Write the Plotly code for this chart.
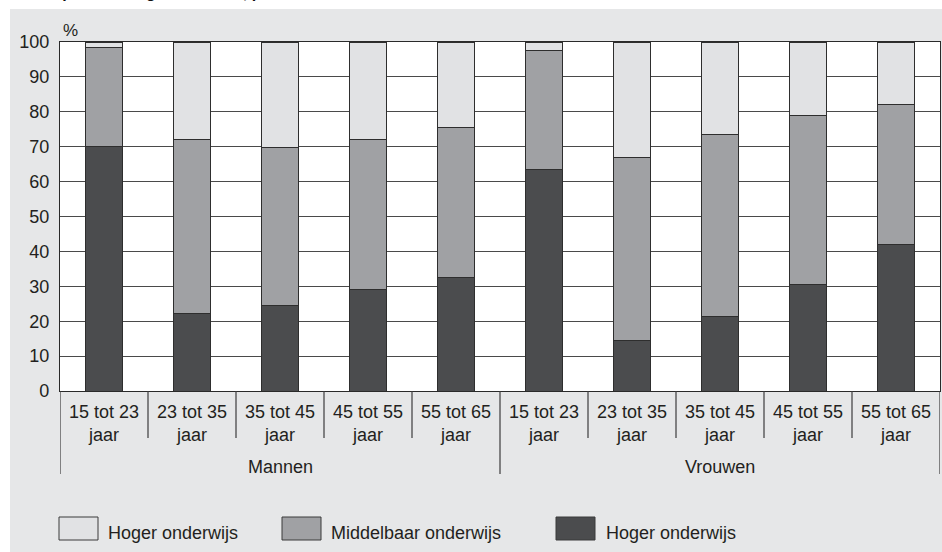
import plotly.graph_objects as go

# ---- data -------------------------------------------------------------
groups = ["Mannen", "Vrouwen"]
age_labels = ["15 tot 23 jaar", "23 tot 35 jaar", "35 tot 45 jaar",
              "45 tot 55 jaar", "55 tot 65 jaar"]
categories = [(g, a) for g in groups for a in age_labels]

lager = [70.0, 22.2, 24.4, 29.2, 32.6, 63.5, 14.4, 21.4, 30.5, 42.1]        # dark
middelbaar = [28.3, 50.0, 45.4, 43.0, 43.0, 34.0, 52.5, 52.1, 48.3, 40.1]   # mid grey
hoger = [1.7, 27.8, 30.2, 27.8, 24.4, 2.5, 33.1, 26.5, 21.2, 17.8]          # light

legend_names = ["Hoger onderwijs", "Middelbaar onderwijs", "Hoger onderwijs"]
y_ticks = list(range(0, 101, 10))

# ---- style ------------------------------------------------------------
FONT = "Arial, 'Liberation Sans', Helvetica, sans-serif"
TXT = "#231f20"
C_DARK, C_MID, C_LIGHT = "#4b4c4e", "#a0a1a4", "#e1e2e4"
BG = "#e6e7e8"
EDGE = "#2e2e2e"

W, H = 942, 552
ML, MR, MT, MB = 60, 2, 42, 161
PW, PH = W - ML - MR, H - MT - MB


def px_x(p):
    return (p - ML) / PW


def px_y(p):
    return (H - MB - p) / PH


xpos = list(range(len(categories)))
ticktext = [a.replace(" jaar", "<br>jaar") for _, a in categories]

fig = go.Figure()
for vals, col, name in [(lager, C_DARK, legend_names[2]),
                        (middelbaar, C_MID, legend_names[1]),
                        (hoger, C_LIGHT, legend_names[0])]:
    fig.add_trace(go.Bar(x=xpos, y=vals, name=name, width=0.41,
                         marker=dict(color=col, line=dict(color=EDGE, width=1)),
                         showlegend=False))

shapes = []
# grey panel background
shapes.append(dict(type="rect", xref="paper", yref="paper", layer="below",
                   x0=px_x(10), x1=px_x(943), y0=px_y(553), y1=px_y(9),
                   fillcolor=BG, line=dict(width=0)))
shapes.append(dict(type="rect", xref="paper", yref="paper", layer="below",
                   x0=0, x1=1, y0=0, y1=1, fillcolor="white", line=dict(width=0)))
# category dividers under the axis
n = len(categories)
per_group = len(age_labels)
for i in range(n + 1):
    is_group = (i % per_group == 0)
    bottom = 474 if is_group else 438
    shapes.append(dict(type="line", xref="x", yref="paper",
                       x0=i - 0.5, x1=i - 0.5, y0=0, y1=px_y(bottom),
                       line=dict(color="#3c3c3c", width=1.2)))

annotations = []
# group labels
for gi, g in enumerate(groups):
    center = gi * per_group + (per_group - 1) / 2
    annotations.append(dict(x=center, xref="x", y=px_y(467), yref="paper",
                            text=g, showarrow=False, xanchor="center", yanchor="middle",
                            font=dict(family=FONT, size=18, color=TXT)))
# % unit label
annotations.append(dict(x=px_x(61), xref="paper", y=px_y(30), yref="paper",
                        text="%", showarrow=False, xanchor="left", yanchor="middle",
                        font=dict(family=FONT, size=17, color=TXT)))
# title, cut off at the top edge as in the source picture
annotations.append(dict(x=px_x(15), xref="paper", y=px_y(3), yref="paper",
                        text="<b>Beroepsbevolking naar sekse, per cohort</b>",
                        showarrow=False, xanchor="left", yanchor="bottom",
                        font=dict(family=FONT, size=16, color="#111111")))

# custom legend
legend_items = [(C_LIGHT, legend_names[0], 59, 98, 106),
                (C_MID, legend_names[1], 282, 321, 329),
                (C_DARK, legend_names[2], 556, 595, 604)]
for col, name, sx0, sx1, tx in legend_items:
    shapes.append(dict(type="rect", xref="paper", yref="paper",
                       x0=px_x(sx0), x1=px_x(sx1), y0=px_y(540), y1=px_y(517),
                       fillcolor=col, line=dict(color="#3a3a3a", width=1)))
    annotations.append(dict(x=px_x(tx), xref="paper", y=px_y(533), yref="paper",
                            text=name, showarrow=False, xanchor="left", yanchor="middle",
                            font=dict(family=FONT, size=18, color=TXT)))

fig.update_layout(
    width=W, height=H,
    margin=dict(l=ML, r=MR, t=MT, b=MB, pad=0),
    paper_bgcolor="white", plot_bgcolor="white",
    barmode="stack", bargap=0.59,
    shapes=shapes, annotations=annotations,
    font=dict(family=FONT, size=18, color=TXT),
    xaxis=dict(range=[-0.5, n - 0.5], tickvals=xpos, ticktext=ticktext,
               showgrid=False, zeroline=False, ticks="",
               showline=True, linecolor="#2a2a2a", linewidth=1.2, mirror=True,
               tickfont=dict(family=FONT, size=18, color=TXT),
               ticklabelstandoff=4),
    yaxis=dict(range=[0, 100], tickvals=y_ticks, showgrid=True,
               gridcolor="#4a4a4a", gridwidth=1.2, zeroline=False, ticks="",
               showline=True, linecolor="#2a2a2a", linewidth=1.2, mirror=True,
               tickfont=dict(family=FONT, size=18, color=TXT),
               ticklabelstandoff=6),
)

fig.write_html("out.html",
               config={"displayModeBar": False},
               post_script="document.body.style.margin='0';"
                           "document.body.style.overflow='hidden';")
